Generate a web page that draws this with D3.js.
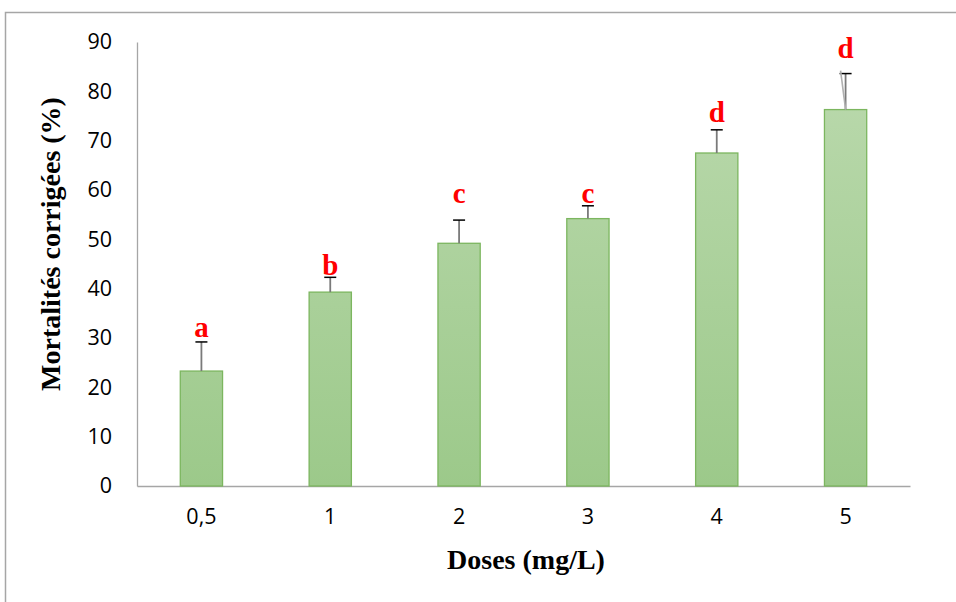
<!DOCTYPE html>
<html><head><meta charset="utf-8">
<script src="https://cdn.jsdelivr.net/npm/d3@7"></script>
<style>html,body{margin:0;padding:0;background:#fff;}</style>
</head><body>
<svg id="chart" width="956" height="602"></svg>
<script>
const categories = ["0,5", "1", "2", "3", "4", "5"];
const values = [23.3, 39.3, 49.2, 54.2, 67.5, 76.3];
const errorTops = [29.2, 42.3, 53.9, 56.8, 72.2, 83.6];
const letters = ["a", "b", "c", "c", "d", "d"];
const letterBaselines = [30.3, 42.7, 57.3, 57.3, 73.7, 86.8];
const yTicks = [0, 10, 20, 30, 40, 50, 60, 70, 80, 90];

const svg = d3.select("#chart");
const W = 956, H = 602;
const m = {left: 137, right: 46, top: 42, bottom: 116};

// outer frame
svg.append("rect").attr("x", 5.5).attr("y", 12.5).attr("width", 1000).attr("height", 1000)
  .attr("fill", "none").attr("stroke", "#a6a6a6").attr("stroke-width", 1.5);

const x = d3.scaleBand().domain(categories).range([m.left, W - m.right]).paddingInner(0.672).paddingOuter(0.336);
const y = d3.scaleLinear().domain([0, 90]).range([H - m.bottom, m.top]);

const defs = svg.append("defs");
const grad = defs.append("linearGradient").attr("id", "barGrad")
  .attr("gradientUnits", "userSpaceOnUse")
  .attr("x1", 0).attr("y1", y(90)).attr("x2", 0).attr("y2", y(0));
grad.append("stop").attr("offset", "0%").attr("stop-color", "#bcdaaf");
grad.append("stop").attr("offset", "100%").attr("stop-color", "#9cc98a");

// axes
const yAxis = svg.append("g").attr("transform", `translate(${m.left},0)`)
  .call(d3.axisLeft(y).tickValues(yTicks).tickSize(0).tickPadding(25));
yAxis.select(".domain").attr("stroke", "#a6a6a6").attr("stroke-width", 1.3);
yAxis.selectAll("text").attr("font-family", "'Open Sans', sans-serif").attr("font-size", 21.5).attr("fill", "#000");

const xAxis = svg.append("g").attr("transform", `translate(0,${y(0)})`)
  .call(d3.axisBottom(x).tickSize(0).tickPadding(23));
xAxis.select(".domain").attr("stroke", "#a6a6a6").attr("stroke-width", 1.3);
xAxis.selectAll("text").attr("font-family", "'Open Sans', sans-serif").attr("font-size", 21.5).attr("fill", "#000");

// bars
svg.append("g").selectAll("rect").data(categories).join("rect")
  .attr("x", d => x(d))
  .attr("y", (d, i) => y(values[i]))
  .attr("width", x.bandwidth())
  .attr("height", (d, i) => y(0) - y(values[i]))
  .attr("fill", "url(#barGrad)")
  .attr("stroke", "#7cb65f").attr("stroke-width", 1.3);

// error bars
const eb = svg.append("g");
categories.forEach((c, i) => {
  const cx = x(c) + x.bandwidth() / 2;
  eb.append("line").attr("x1", cx).attr("x2", cx)
    .attr("y1", y(values[i])).attr("y2", y(errorTops[i]))
    .attr("stroke", "#7a7a7a").attr("stroke-width", 1.8);
  eb.append("line").attr("x1", cx - 6).attr("x2", cx + 6)
    .attr("y1", y(errorTops[i])).attr("y2", y(errorTops[i]))
    .attr("stroke", "#000").attr("stroke-width", 1.5);
});
// stray slanted stroke on the last error bar (as in the source figure)
{
  const last = categories.length - 1;
  const cx = x(categories[last]) + x.bandwidth() / 2;
  eb.append("line").attr("x1", cx - 5).attr("y1", y(errorTops[last]) - 3)
    .attr("x2", cx).attr("y2", y(values[last]))
    .attr("stroke", "#b0b0b0").attr("stroke-width", 1.6);
}

// significance letters
svg.append("g").selectAll("text").data(letters).join("text")
  .attr("x", (d, i) => x(categories[i]) + x.bandwidth() / 2)
  .attr("y", (d, i) => y(letterBaselines[i]))
  .attr("text-anchor", "middle")
  .attr("font-family", "'Liberation Serif', 'Times New Roman', serif")
  .attr("font-weight", "bold").attr("font-size", 29).attr("fill", "#ff0000")
  .text(d => d);

// axis titles
svg.append("text").attr("x", 526).attr("y", 569).attr("text-anchor", "middle")
  .attr("font-family", "'Liberation Serif', 'Times New Roman', serif")
  .attr("font-weight", "bold").attr("font-size", 28).attr("fill", "#000")
  .text("Doses (mg/L)");
svg.append("text").attr("transform", "translate(60,244) rotate(-90)").attr("text-anchor", "middle")
  .attr("font-family", "'Liberation Serif', 'Times New Roman', serif")
  .attr("font-weight", "bold").attr("font-size", 28).attr("fill", "#000")
  .text("Mortalités corrigées (%)");
</script>
</body></html>
